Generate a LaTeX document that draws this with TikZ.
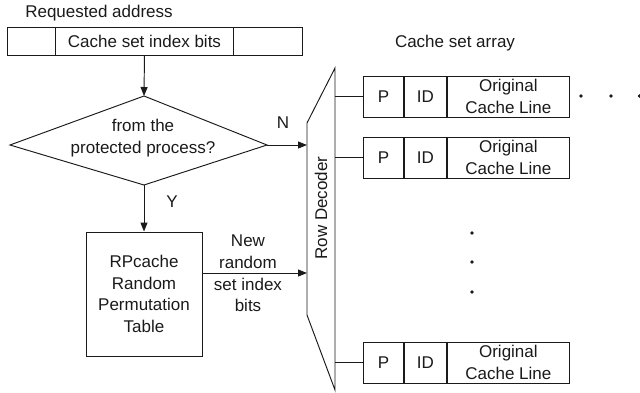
\documentclass[tikz,border=0pt]{standalone}
\usepackage{fontspec}
\setmainfont{Liberation Sans}
\usetikzlibrary{arrows.meta,calc}
\definecolor{ink}{HTML}{1A1A1A}
\begin{document}
\begin{tikzpicture}[x=1pt,y=-1pt, line width=0.95pt, color=ink,
  every node/.style={font=\fontsize{17}{21.7}\selectfont, inner sep=0pt, text=ink},
  box/.style={draw, minimum height=41pt, anchor=west},
  abox/.style={draw, minimum height=28pt, anchor=north west},
  arr/.style={-{Triangle[length=9pt,width=7pt]}}]
\useasboundingbox (0,0) rectangle (640,392);

% requested address
\node (ra) at (99,13) {Requested address};
\node[abox, minimum width=48pt] (aL) at (7,27) {};
\node[abox, minimum width=178pt] (aM) at (55,27) {Cache set index bits};
\node[abox, minimum width=69pt] (aR) at (233,27) {};

% decision diamond
\coordinate (dT) at (144,96);
\coordinate (dL) at (10,145);
\coordinate (dR) at (267,145);
\coordinate (dB) at (144,185);
\draw (dT) -- (dR) -- (dB) -- (dL) -- cycle;
\node[align=center] (q) at (143,138) {from the\\protected process?};
\draw[arr] (aM.south) -- (dT);

% RP table
\node[draw, minimum width=116pt, minimum height=124pt, align=center] (rp) at (144,294) {RPcache\\Random\\Permutation\\Table};
\draw[arr] (dB) -- (rp.north);
\node (Y) at (172,202) {Y};

% row decoder
\coordinate (decTL) at (307,123);
\coordinate (decTR) at (335,68);
\coordinate (decBR) at (335,390);
\coordinate (decBL) at (307,315);
\draw (decTL) -- (decTR) -- (decBR) -- (decBL) -- cycle;
\node[rotate=90] (rd) at (321,208) {Row Decoder};
\coordinate (decN) at (307,145);
\coordinate (decY) at (307,273);
\draw[arr] (dR) -- (decN);
\node (N) at (283,123) {N};
\draw[arr] (rp.east |- decY) -- (decY);
\node[align=center] (nr) at (248,273.5) {New\\random\\set index\\bits};

% cache set array
\node (csa) at (455,43) {Cache set array};

\node[box, minimum width=40pt] (p1) at (363,96.5) {P};
\node[box, minimum width=42pt] (i1) at (p1.east) {ID};
\node[box, minimum width=122pt, align=center] (c1) at (i1.east) {Original\\Cache Line};
\coordinate (o1) at (335,96.5);
\draw (o1) -- (p1.west);

\node[box, minimum width=40pt] (p2) at (363,157.5) {P};
\node[box, minimum width=42pt] (i2) at (p2.east) {ID};
\node[box, minimum width=122pt, align=center] (c2) at (i2.east) {Original\\Cache Line};
\coordinate (o2) at (335,157.5);
\draw (o2) -- (p2.west);

\node[box, minimum width=40pt] (p3) at (363,362.5) {P};
\node[box, minimum width=42pt] (i3) at (p3.east) {ID};
\node[box, minimum width=122pt, align=center] (c3) at (i3.east) {Original\\Cache Line};
\coordinate (o3) at (335,362.5);
\draw (o3) -- (p3.west);

% dots
\fill (472,233) circle (1.9pt);
\fill (472,262) circle (1.9pt);
\fill (472,292) circle (1.9pt);
\fill (581,96) circle (1.9pt);
\fill (611,96) circle (1.9pt);
\fill (639.5,96) circle (1.9pt);
\end{tikzpicture}
\end{document}
